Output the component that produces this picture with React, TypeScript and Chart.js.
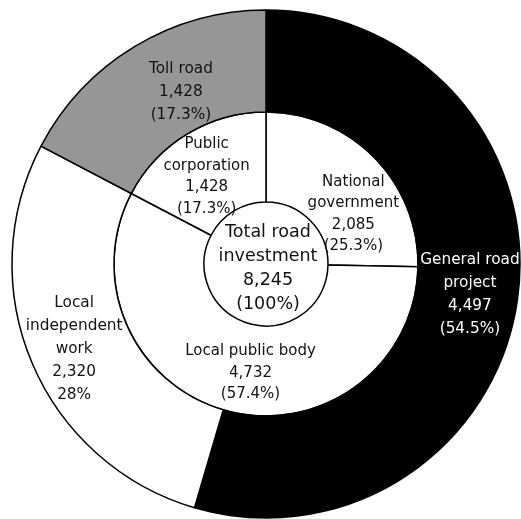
import React, { useEffect, useRef } from "react";
import { Chart, registerables } from "chart.js";
Chart.register(...registerables);

// Outer ring: road project type
const outerNames = [["General road", "project"], ["Local", "independent", "work"], ["Toll road"]];
const outerValues = [4497, 2320, 1428];
const outerShares = ["(54.5%)", "28%", "(17.3%)"];
const outerColors = ["#000000", "#ffffff", "#969696"];
const outerTextColors = ["#ffffff", "#111111", "#111111"];

// Inner ring: investing body
const innerNames = [["National", "government"], ["Local public body"], ["Public", "corporation"]];
const innerValues = [2085, 4732, 1428];
const innerShares = ["(25.3%)", "(57.4%)", "(17.3%)"];

// Centre
const centerLines = ["Total road", "investment", "8,245", "(100%)"];

// label nudges relative to each arc's centre point (style)
const outerNudge = [[3, 2], [-5, 6], [20, 2]];
const innerNudge = [[11, 25], [11, 5], [-4, 4]];

const FONT = '"DejaVu Sans", sans-serif';

const fmt = (v: number) => v.toLocaleString("en-US");

const labelPlugin = {
  id: "ringLabels",
  afterDatasetsDraw(chart: any) {
    const ctx = chart.ctx as CanvasRenderingContext2D;
    ctx.save();
    ctx.textAlign = "center";
    ctx.textBaseline = "middle";
    const drawBlock = (lines: string[], x: number, y: number, lh: number, color: string, size: number) => {
      ctx.font = `${size}px ${FONT}`;
      ctx.fillStyle = color;
      const y0 = y - ((lines.length - 1) * lh) / 2;
      lines.forEach((t, i) => ctx.fillText(t, x, y0 + i * lh));
    };
    const outerMeta = chart.getDatasetMeta(0);
    outerMeta.data.forEach((arc: any, i: number) => {
      const p = arc.getCenterPoint(true);
      const lines = [...outerNames[i], fmt(outerValues[i]), outerShares[i]];
      drawBlock(lines, p.x + outerNudge[i][0], p.y + outerNudge[i][1], 23, outerTextColors[i], 15.3);
    });
    const innerMeta = chart.getDatasetMeta(1);
    innerMeta.data.forEach((arc: any, i: number) => {
      const p = arc.getCenterPoint(true);
      const lines = [...innerNames[i], fmt(innerValues[i]), innerShares[i]];
      drawBlock(lines, p.x + innerNudge[i][0], p.y + innerNudge[i][1], 21.5, "#111111", 15);
    });
    const a0 = innerMeta.data[0];
    drawBlock(centerLines, a0.x + 2, a0.y + 4.5, 24, "#111111", 17.5);
    ctx.restore();
  },
};

export default function App() {
  const ref = useRef<HTMLCanvasElement>(null);
  useEffect(() => {
    if (!ref.current) return;
    const chart = new Chart(ref.current, {
      type: "doughnut",
      data: {
        labels: ["a", "b", "c"],
        datasets: [
          {
            data: outerValues,
            backgroundColor: outerColors,
            borderColor: "#000000",
            borderWidth: 1.5,
            weight: 102,
          },
          {
            data: innerValues,
            backgroundColor: ["#ffffff", "#ffffff", "#ffffff"],
            borderColor: "#000000",
            borderWidth: 1.5,
            weight: 90,
          },
        ],
      },
      options: {
        responsive: false,
        animation: false,
        radius: 254,
        cutout: "24.41%",
        layout: { padding: { left: 11, top: 9, right: 0, bottom: 0 } },
        plugins: { legend: { display: false }, tooltip: { enabled: false } },
      } as any,
      plugins: [labelPlugin],
    });
    return () => chart.destroy();
  }, []);
  return (
    <div style={{ position: "fixed", left: 0, top: 0, width: 521, height: 519, background: "#fff" }}>
      <canvas ref={ref} width={521} height={519} />
    </div>
  );
}
